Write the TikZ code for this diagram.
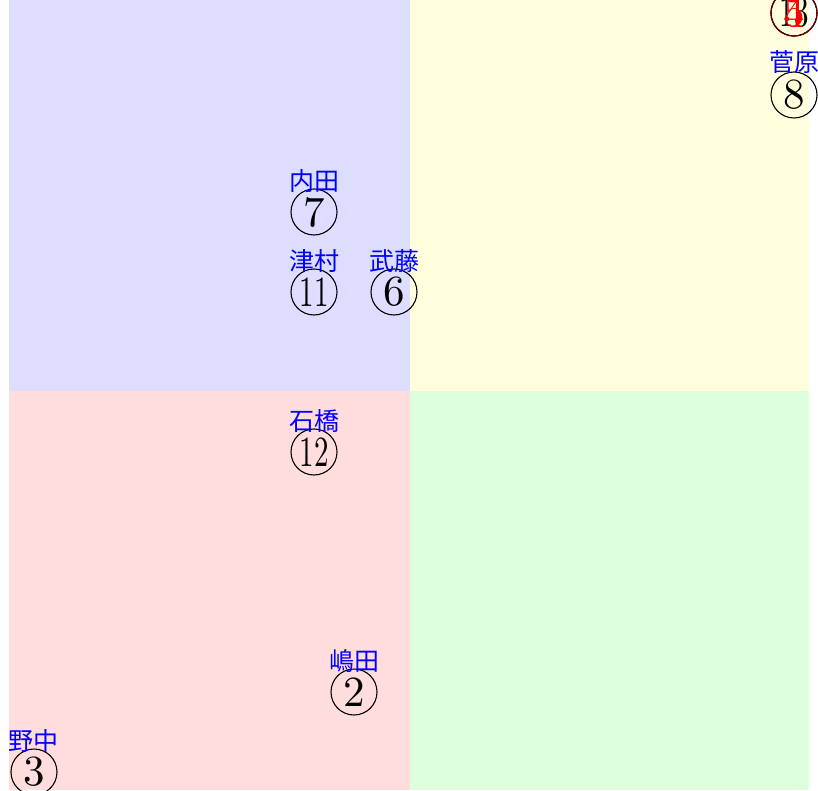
\documentclass[tikz,border=0pt]{standalone}
\usepackage{fontspec}
\newfontfamily\jpfont{Noto Sans CJK JP}
\usetikzlibrary{positioning}
\definecolor{qblue}{RGB}{221,221,255}
\definecolor{qyellow}{RGB}{255,255,221}
\definecolor{qred}{RGB}{255,221,221}
\definecolor{qgreen}{RGB}{221,255,221}
\newcommand{\onedig}[1]{\scalebox{4.3}{\fontsize{10}{10}\selectfont #1}}
\newcommand{\twodig}[1]{\scalebox{2.9}[4.3]{\fontsize{10}{10}\selectfont #1}}
\tikzset{
    member/.style={draw, circle, line width=1.1pt, minimum size=46pt, inner sep=0pt},
    namelabel/.style={text=blue, inner sep=0pt, font=\jpfont\fontsize{25}{25}\selectfont}
}
\begin{document}
\begin{tikzpicture}[x=1pt, y=-1pt]
    \useasboundingbox (0,0) rectangle (818,791);
    % 四象限
    \fill[qblue] (9,0) rectangle (410,391);
    \fill[qyellow] (410,0) rectangle (809,391);
    \fill[qred] (9,391) rectangle (410,790);
    \fill[qgreen] (410,391) rectangle (809,790);

    % 右上 (重なり)
    \node[member] (n13) at (794,13) {\twodig{13}};
    \node[member, draw=red!40!black, text=red] (n4) at (794,13) {\onedig{4}};
    \node[member, draw=red!40!black, text=red] (n5) at (794,13) {\onedig{5}};

    % メンバー
    \node[member] (n8) at (794,95) {\onedig{8}};
    \node[namelabel, above=-2pt of n8] (l8) {菅原};
    \node[member] (n7) at (314,212) {\onedig{7}};
    \node[namelabel, above=-4pt of n7] (l7) {内田};
    \node[member] (n11) at (314,292) {\twodig{11}};
    \node[namelabel, above=-4pt of n11] (l11) {津村};
    \node[member] (n6) at (394,292) {\onedig{6}};
    \node[namelabel, above=-4pt of n6] (l6) {武藤};
    \node[member] (n12) at (314,452) {\twodig{12}};
    \node[namelabel, above=-4pt of n12] (l12) {石橋};
    \node[member] (n2) at (354,692) {\onedig{2}};
    \node[namelabel, above=-4pt of n2] (l2) {嶋田};
    \node[member] (n3) at (34,772) {\onedig{3}};
    \node[namelabel, above=-4pt of n3] (l3) {野中};
\end{tikzpicture}
\end{document}
